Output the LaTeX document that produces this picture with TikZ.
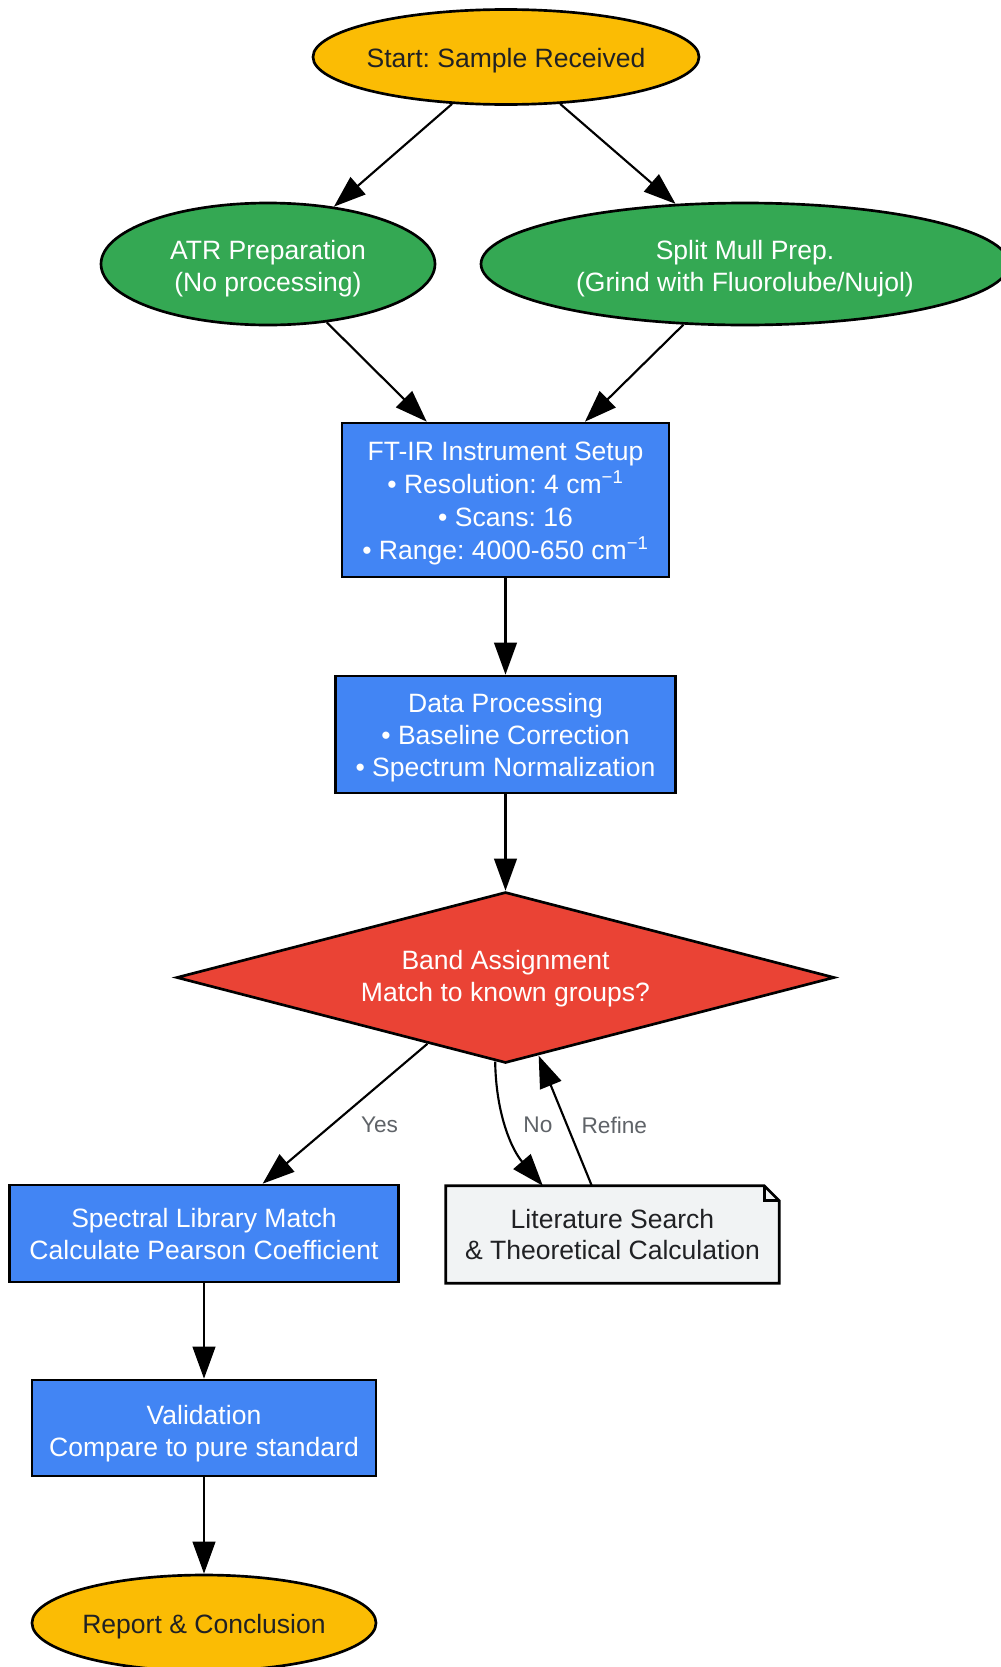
\documentclass[tikz,border=0pt]{standalone}
\usepackage{fontspec}
\setmainfont{Liberation Sans}
\frenchspacing
\usetikzlibrary{shapes.geometric,arrows.meta,calc,backgrounds}
\definecolor{cyellow}{HTML}{FBBC04}
\definecolor{cgreen}{HTML}{34A853}
\definecolor{cblue}{HTML}{4285F4}
\definecolor{cred}{HTML}{EA4335}
\definecolor{cnote}{HTML}{F1F3F4}
\definecolor{cdark}{HTML}{202124}
\definecolor{cgray}{HTML}{5F6368}
\begin{document}
\begin{tikzpicture}[x=0.75pt,y=-0.75pt,
  font=\fontsize{19.9pt}{24pt}\selectfont,
  base/.style={draw=black, line width=2pt, inner sep=0pt},
  term/.style={base, ellipse, fill=cyellow},
  prep/.style={base, ellipse, fill=cgreen},
  proc/.style={base, rectangle, fill=cblue},
  dec/.style={base, diamond, fill=cred},
  notebox/.style={rectangle, inner sep=0pt},
  wtxt/.style={text=white, align=center},
  dtxt/.style={text=cdark, align=center},
  conn/.style={line width=1.6pt, -{Triangle[length=24pt,width=17pt]}},
  lbl/.style={text=cgray, font=\fontsize{17pt}{20pt}\selectfont, inner sep=0pt}
]
\useasboundingbox (0,0) rectangle (1000,1667);
\begin{scope}[on background layer]
\fill[white] (0,0) rectangle (1000,1667);
\end{scope}

\node[term, minimum width=289.5pt, minimum height=71.25pt,
  label={[dtxt, yshift=-2.4pt]center:{Start: Sample Received}}] (start) at (506,57) {};
\node[prep, minimum width=250.5pt, minimum height=91.5pt,
  label={[wtxt, yshift=-3.2pt]center:{ATR Preparation\\(No processing)}}] (atr) at (268,264) {};
\node[prep, minimum width=396pt, minimum height=91.5pt,
  label={[wtxt, yshift=-3.2pt]center:{Split Mull Prep.\\(Grind with Fluorolube/Nujol)}}] (split) at (745,264) {};
\node[proc, minimum width=245.25pt, minimum height=115.5pt,
  label={[wtxt, yshift=-2.4pt, font=\fontsize{19.9pt}{24.75pt}\selectfont]center:{FT-IR Instrument Setup\\• Resolution: 4 cm\textsuperscript{−1}\\• Scans: 16\\• Range: 4000-650 cm\textsuperscript{−1}}}] (ftir) at (505.5,500) {};
\node[proc, minimum width=255pt, minimum height=87.75pt,
  label={[wtxt, yshift=-2.4pt]center:{Data Processing\\• Baseline Correction\\• Spectrum Normalization}}] (dp) at (505.5,734.5) {};
\node[dec, minimum width=493.5pt, minimum height=128.25pt,
  label={[wtxt, yshift=-1.2pt]center:{Band Assignment\\Match to known groups?}}] (band) at (505.5,977.5) {};
\node[proc, minimum width=291.75pt, minimum height=72.75pt,
  label={[wtxt]center:{Spectral Library Match\\Calculate Pearson Coefficient}}] (lib) at (204,1233.5) {};
\node[notebox, minimum width=249.75pt, minimum height=72.75pt,
  label={[dtxt]center:{Literature Search\\\& Theoretical Calculation}}] (lit) at (612.5,1234.5) {};
\begin{scope}[on background layer]
\filldraw[fill=cnote, draw=black, line width=2pt]
  (lit.south west) -- (lit.north west) -- ($(lit.north east)+(-15,0)$)
  -- ($(lit.north east)+(0,15)$) -- (lit.south east) -- cycle;
\draw[line width=2pt] ($(lit.north east)+(-15,0)$) -- ($(lit.north east)+(-15,15)$) -- ($(lit.north east)+(0,15)$);
\end{scope}
\node[proc, minimum width=258pt, minimum height=72pt,
  label={[wtxt, yshift=-4pt]center:{Validation\\Compare to pure standard}}] (val) at (204,1428) {};
\node[term, minimum width=258pt, minimum height=72pt,
  label={[dtxt, yshift=-2.4pt]center:{Report \& Conclusion}}] (rep) at (204,1623) {};

\draw[conn] (start) -- (atr);
\draw[conn] (start) -- (split);
\draw[conn] (atr) -- (ftir);
\draw[conn] (split) -- (ftir);
\draw[conn] (ftir) -- (dp);
\draw[conn] (dp) -- (band);
\draw[conn] (band) -- node[lbl, xshift=25.9pt, yshift=-8.3pt] {Yes} (lib);
\draw[conn] (band.-97) .. controls (496,1115) and (512,1150) .. (lit.145)
  node[lbl, pos=0.5, xshift=22.6pt, yshift=4pt] {No};
\draw[conn] (lit.113) -- node[lbl, xshift=36.8pt, yshift=-3.4pt] {Refine} (band.-67);
\draw[conn] (lib) -- (val);
\draw[conn] (val) -- (rep);
\end{tikzpicture}
\end{document}
